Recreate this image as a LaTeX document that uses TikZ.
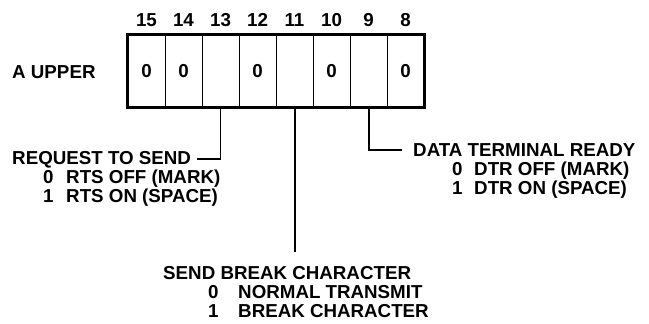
\documentclass[tikz,border=0pt]{standalone}
\usepackage{fontspec}
\setmainfont{Liberation Sans}
\usepackage{tikz}

\begin{document}
\begin{tikzpicture}[x=0.03cm,y=-0.03cm,
    font=\fontsize{16}{19}\selectfont\bfseries,
    cell/.style={draw,line width=0.8pt,minimum width=1.11cm,minimum height=2.16cm,inner sep=0pt},
    txt/.style={anchor=base west,inner sep=0pt},
    wire/.style={line width=1.7pt}]
            \useasboundingbox (0,0) rectangle (649,323);
            % register cells, bit 15 on the left
            \foreach \b/\v [count=\i] in {15/0,14/0,13/,12/0,11/,10/0,9/,8/0} {
                \node[cell] (c\b) at (109.5+37*\i,71) {\v};
                \node[anchor=base,inner sep=0pt] (n\b) at (109.5+37*\i,26) {\b};
            }
            \draw[line width=2pt] (c15.north west) rectangle (c8.south east);
            \node[txt] (areg) at (12,78) {A UPPER};
            % bit 13
            \node[txt] (rts) at (12,164) {REQUEST TO SEND};
            \node[txt] (rts0) at (43,183) {0};
            \node[txt] (rtsoff) at (66,183) {RTS OFF (MARK)};
            \node[txt] (rts1) at (43,202) {1};
            \node[txt] (rtson) at (66,202) {RTS ON (SPACE)};
            % bit 9
            \node[txt] (dtr) at (413,156) {DATA TERMINAL READY};
            \node[txt] (dtr0) at (452,175) {0};
            \node[txt] (dtroff) at (474,175) {DTR OFF (MARK)};
            \node[txt] (dtr1) at (452,194) {1};
            \node[txt] (dtron) at (474,194) {DTR ON (SPACE)};
            % bit 11
            \node[txt] (sbc) at (163,279) {SEND BREAK CHARACTER};
            \node[txt] (sbc0) at (208,298) {0};
            \node[txt] (sbcnorm) at (238,298) {NORMAL TRANSMIT};
            \node[txt] (sbc1) at (208,317) {1};
            \node[txt] (sbcbrk) at (238,317) {BREAK CHARACTER};
            \coordinate (brk) at (294.5,252);
            \draw[wire,shorten >=5pt] (c13.south) |- (rts.east);
            \draw[wire,shorten >=9pt] (c9.south) |- (dtr.west);
            \draw[wire] (c11.south) -- (brk);
        \end{tikzpicture}
\end{document}
